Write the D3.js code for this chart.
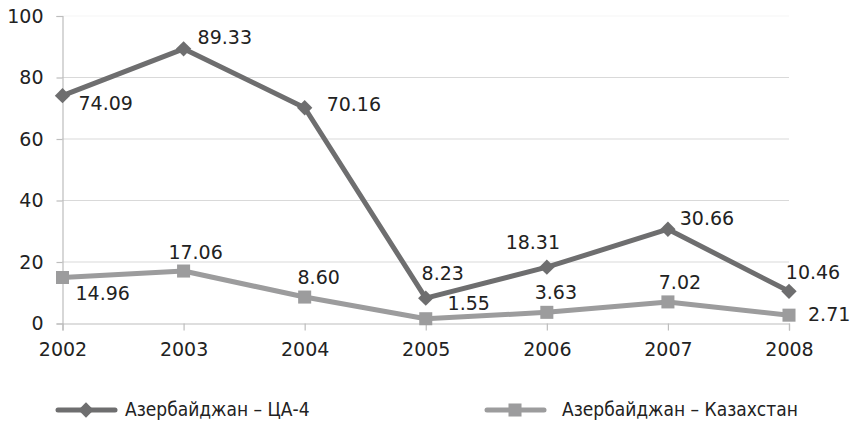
<!DOCTYPE html>
<html><head><meta charset="utf-8">
<script src="https://cdn.jsdelivr.net/npm/d3@7"></script>
<style>body{margin:0;background:#fff;} svg{display:block;}</style>
</head><body>
<script>
const years = ["2002","2003","2004","2005","2006","2007","2008"];
const seriesCA4 = [74.09, 89.33, 70.16, 8.23, 18.31, 30.66, 10.46];
const seriesKZ = [14.96, 17.06, 8.60, 1.55, 3.63, 7.02, 2.71];
const seriesNames = ["Азербайджан – ЦА-4", "Азербайджан – Казахстан"];
const yTicks = [0, 20, 40, 60, 80, 100];

// label placement (style only): [dx, dy, anchor]
const offCA4 = [[16,9,"start"],[14,-10,"start"],[22,-2,"start"],[17,-24,"middle"],[-14,-24,"middle"],[39,-10,"middle"],[24,-18,"middle"]];
const offKZ = [[13,17,"start"],[12,-18,"middle"],[14,-19,"middle"],[43,-14,"middle"],[9,-19,"middle"],[12,-18,"middle"],[19,0,"start"]];

const W = 855, H = 423;
const svg = d3.select("body").append("svg").attr("width", W).attr("height", H);
const x = d3.scalePoint().domain(years).range([62.5, 789]);
const y = d3.scaleLinear().domain([0, 100]).range([323.5, 16]);
const font = "DejaVu Sans, sans-serif";

// gridlines
svg.append("g").selectAll("line").data(yTicks.filter(d => d > 0)).join("line")
  .attr("x1", 62).attr("x2", 789).attr("y1", d => y(d)).attr("y2", d => y(d))
  .attr("stroke", d => d === 100 ? "#f6f6f6" : "#d9d9d9").attr("stroke-width", 1.2);

const yAxis = svg.append("g").attr("transform", "translate(62.5,0)")
  .call(d3.axisLeft(y).tickValues(yTicks).tickSize(6).tickPadding(13));
const xAxis = svg.append("g").attr("transform", `translate(0,${y(0)})`)
  .call(d3.axisBottom(x).tickSize(7).tickPadding(8));
[yAxis, xAxis].forEach(a => {
  a.select(".domain").attr("stroke", "#bdbdbd").attr("stroke-width", 1.2);
  a.selectAll(".tick line").attr("stroke", "#bdbdbd").attr("stroke-width", 1.2);
  a.selectAll("text").attr("font-family", font).attr("font-size", 19).attr("fill", "#222");
});
xAxis.selectAll("text").attr("dy", "0.9em");

const line = d3.line().x((d, i) => x(years[i])).y(d => y(d));
const c1 = "#6e6e6f", c2 = "#9c9c9d";

svg.append("path").datum(seriesKZ).attr("d", line).attr("fill", "none")
  .attr("stroke", c2).attr("stroke-width", 5).attr("stroke-linejoin", "round");
svg.append("path").datum(seriesCA4).attr("d", line).attr("fill", "none")
  .attr("stroke", c1).attr("stroke-width", 5).attr("stroke-linejoin", "round");

const diamond = d3.symbol().type(d3.symbolDiamond2).size(150);
const square = d3.symbol().type(d3.symbolSquare).size(170);
svg.append("g").selectAll("path").data(seriesCA4).join("path")
  .attr("d", diamond).attr("fill", c1)
  .attr("transform", (d, i) => `translate(${x(years[i])},${y(d)})`);
svg.append("g").selectAll("path").data(seriesKZ).join("path")
  .attr("d", square).attr("fill", c2)
  .attr("transform", (d, i) => `translate(${x(years[i])},${y(d)})`);

function labels(data, offs) {
  svg.append("g").selectAll("text").data(data).join("text")
    .attr("x", (d, i) => x(years[i]) + offs[i][0])
    .attr("y", (d, i) => y(d) + offs[i][1])
    .attr("text-anchor", (d, i) => offs[i][2])
    .attr("dominant-baseline", "middle")
    .attr("font-family", font).attr("font-size", 19).attr("fill", "#222")
    .text(d => d.toFixed(2));
}
labels(seriesCA4, offCA4);
labels(seriesKZ, offKZ);

// legend
const legY = 410;
const leg = [{x: 58, c: c1, sym: diamond, tx: 125}, {x: 487, c: c2, sym: square, tx: 562}];
leg.forEach((l, i) => {
  svg.append("line").attr("x1", l.x).attr("x2", l.x + 57).attr("y1", legY).attr("y2", legY)
    .attr("stroke", l.c).attr("stroke-width", 5).attr("stroke-linecap", "round");
  svg.append("path").attr("d", l.sym).attr("fill", l.c)
    .attr("transform", `translate(${l.x + 28},${legY})`);
  svg.append("text").attr("x", l.tx).attr("y", legY)
    .attr("dominant-baseline", "middle")
    .attr("font-family", "Liberation Sans Narrow, DejaVu Sans Condensed, sans-serif")
    .attr("font-size", 19).attr("fill", "#222").text(seriesNames[i]);
});
</script>
</body></html>
